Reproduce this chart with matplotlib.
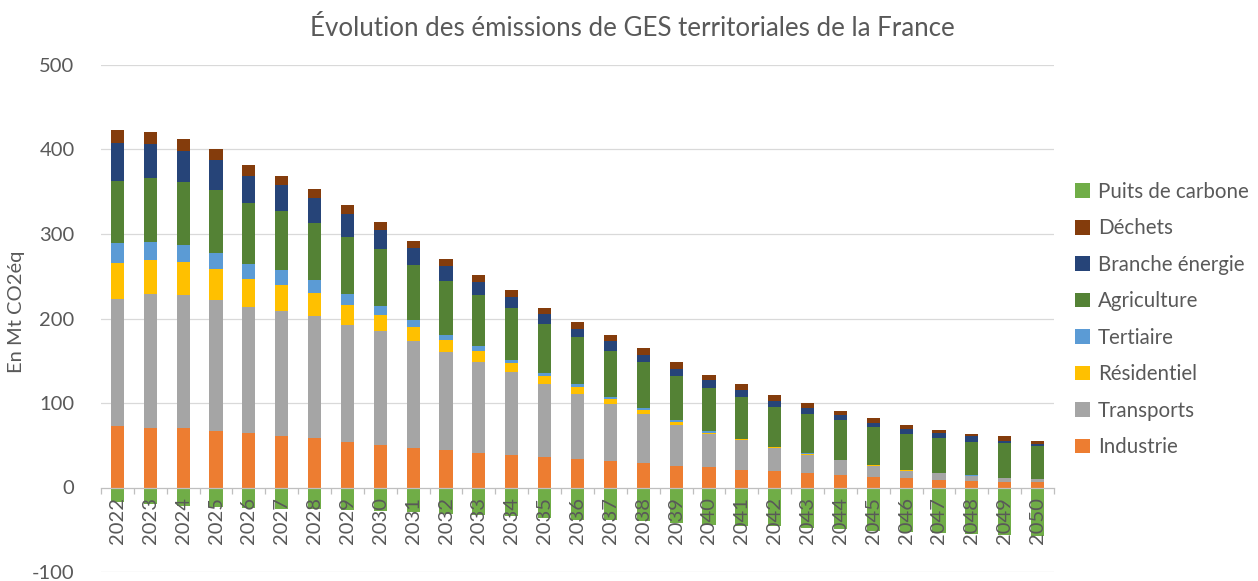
import matplotlib
matplotlib.use("Agg")
import matplotlib.pyplot as plt
import numpy as np

years = list(range(2022, 2051))
industrie = [73, 71, 71, 67, 64, 61, 58, 54, 50, 47, 44, 41, 39, 36, 34, 31, 29, 26, 24, 21, 19, 17, 15, 13, 11, 9, 8, 7, 7]
transports = [150, 158, 157, 155, 150, 148, 145, 138, 135, 126, 116, 107, 98, 86, 77, 68, 58, 48, 39, 35, 28, 22, 17, 13, 9, 8, 6, 4, 3]
residentiel = [43, 40, 39, 37, 33, 31, 27, 24, 19, 17, 14, 13, 10, 10, 8, 6, 5, 4, 2, 1, 1, 1, 0.4, 0.3, 0.3, 0.2, 0.2, 0.2, 0.2]
tertiaire = [23, 22, 20, 19, 18, 17, 15, 13, 11, 8, 7, 6, 4, 4, 3, 2, 2, 2, 2, 0.5, 0.5, 0.5, 0.3, 0.3, 0.2, 0.2, 0.2, 0.2, 0.2]
agriculture = [74, 75, 74, 74, 72, 70, 68, 67, 67, 65, 63, 61, 62, 58, 56, 55, 54, 52, 51, 50, 47, 46, 47, 45, 43, 41, 40, 41, 39]
branche_energie = [45, 41, 37, 35, 32, 31, 30, 28, 23, 21, 18, 15, 13, 11, 10, 11, 9, 8, 9, 8, 7, 7, 6, 5, 6, 6, 6, 3, 2]
dechets = [15, 14, 14, 13, 13, 11, 10, 10, 9, 8, 9, 9, 8, 8, 8, 8, 8, 8, 6, 7, 7, 6, 5, 6, 4, 4, 3, 5, 4]
puits_carbone = [-17, -20, -22, -23, -24, -25, -26, -27, -28, -29, -31, -33, -34, -36, -38, -39, -40, -42, -44, -45, -46, -48, -49, -51, -53, -54, -55, -56, -57]

series_names = ["Industrie", "Transports", "Résidentiel", "Tertiaire", "Agriculture",
                "Branche énergie", "Déchets"]
series_vals = [industrie, transports, residentiel, tertiaire, agriculture, branche_energie, dechets]
colors = ["#ED7D31", "#A5A5A5", "#FFC000", "#5B9BD5", "#548235", "#264478", "#843C0C"]
sink_color = "#70AD47"
yticks = [-100, 0, 100, 200, 300, 400, 500]

plt.rcParams['font.family'] = ['Lato', 'DejaVu Sans']
txt = "#595959"

fig = plt.figure(figsize=(12.58, 5.81), dpi=100)
ax = fig.add_axes([101 / 1258, 1 - 572 / 581, (1054 - 101) / 1258, (572 - 65) / 581])

x = np.arange(len(years))
w = 0.4
handles = {}
bottom = np.zeros(len(years))
for name, vals, c in zip(series_names, series_vals, colors):
    v = np.array(vals, dtype=float)
    b = ax.bar(x, v, w, bottom=bottom, color=c, zorder=1, label=name)
    handles[name] = b
    bottom += v
hs = ax.bar(x, puits_carbone, w, color=sink_color, zorder=1, label="Puits de carbone")
handles["Puits de carbone"] = hs

ax.set_xlim(-0.5, len(years) - 0.5)
ax.set_ylim(-100, 500)

for yt in yticks:
    if yt != 0:
        ax.axhline(yt, color="#d9d9d9", lw=0.9, zorder=0)

for s in ["top", "right", "left"]:
    ax.spines[s].set_visible(False)
ax.spines["bottom"].set_position(("data", 0))
ax.spines["bottom"].set_color("#bfbfbf")
ax.spines["bottom"].set_linewidth(0.9)
ax.spines["bottom"].set_zorder(2)

ax.set_xticks(x)
ax.set_xticklabels([str(y) for y in years], rotation=90, fontsize=14.5, color=txt)
ax.set_xticks(np.arange(-0.5, len(years), 1.0), minor=True)
ax.tick_params(axis="x", which="major", length=0, pad=7)
ax.tick_params(axis="x", which="minor", length=4, color="#bfbfbf", width=0.9)

ax.set_yticks(yticks)
ax.set_yticklabels([str(v) for v in yticks], fontsize=14.5, color=txt)
ax.tick_params(axis="y", length=0, pad=19)

fig.text(632 / 1258, 1 - 28 / 581, "Évolution des émissions de GES territoriales de la France",
         ha="center", va="center", fontsize=18.6, color=txt)
fig.text(17 / 1258, 1 - 312 / 581, "En Mt CO2éq", rotation=90, ha="center", va="center",
         fontsize=14.5, color=txt)

order = ["Puits de carbone", "Déchets", "Branche énergie", "Agriculture", "Tertiaire",
         "Résidentiel", "Transports", "Industrie"]
leg = fig.legend([handles[n] for n in order], order, loc="upper left",
                 bbox_to_anchor=(1075 / 1258, 1 - 182 / 581), frameon=False,
                 fontsize=14.8, handlelength=0.72, handleheight=0.72,
                 handletextpad=0.4, labelspacing=0.8, borderpad=0, borderaxespad=0)
for t in leg.get_texts():
    t.set_color(txt)

fig.savefig("out.png", dpi=100)
